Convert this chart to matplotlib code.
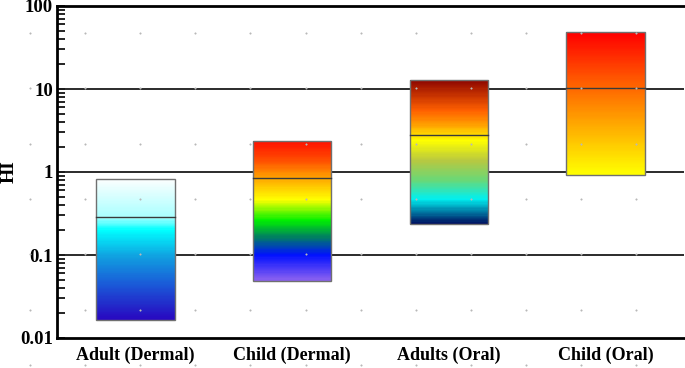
import numpy as np
import matplotlib
matplotlib.use("Agg")
import matplotlib.pyplot as plt
from matplotlib.colors import LinearSegmentedColormap
from matplotlib.lines import Line2D

# data (HI ranges)
groups = ["Adult (Dermal)", "Child (Dermal)", "Adults (Oral)", "Child (Oral)"]
hi_low = [0.0165, 0.049, 0.236, 0.92]
hi_mid = [0.287, 0.84, 2.77, 10.4]
hi_high = [0.82, 2.38, 12.8, 48.2]

# gradient stops per bar, bottom -> top
grad_stops = [
    [(0.0, "#2808c0"), (0.25, "#1a5ad8"), (0.45, "#10a0e0"), (0.64, "#00ffff"),
     (0.73, "#a8ffff"), (1.0, "#fafefe")],
    [(0.0, "#8a60f0"), (0.18, "#0010ff"), (0.31, "#008060"), (0.43, "#00f000"),
     (0.58, "#ffff00"), (0.73, "#ffa800"), (0.86, "#ff5000"), (1.0, "#ff1000")],
    [(0.0, "#001060"), (0.17, "#00f0f0"), (0.3, "#68d878"), (0.44, "#b8c840"),
     (0.58, "#ffff00"), (0.69, "#ffa000"), (0.79, "#ff6000"), (1.0, "#900800")],
    [(0.0, "#ffff00"), (0.45, "#ff9000"), (0.7, "#ff5000"), (1.0, "#ff0000")],
]

plt.rcParams["font.family"] = ["Liberation Serif", "DejaVu Serif"]
plt.rcParams["font.weight"] = "bold"

fig = plt.figure(figsize=(6.85, 3.68), dpi=100)
ax = fig.add_axes([57 / 685, 30 / 368, 627 / 685, 332 / 368])

xpos = np.arange(1, len(groups) + 1)
width = 0.5

for i, x in enumerate(xpos):
    cmap = LinearSegmentedColormap.from_list("g%d" % i, grad_stops[i])
    n = 120
    yedges = np.logspace(np.log10(hi_low[i]), np.log10(hi_high[i]), n + 1)
    xedges = np.array([x - width / 2, x + width / 2])
    c = np.linspace(0, 1, n).reshape(n, 1)
    ax.pcolormesh(xedges, yedges, c, cmap=cmap, shading="flat", zorder=3)
    # outline
    ax.bar(x, hi_high[i] - hi_low[i], bottom=hi_low[i], width=width,
           facecolor="none", edgecolor="#707070", linewidth=1, zorder=4)
    ax.plot([x - width / 2, x + width / 2], [hi_mid[i], hi_mid[i]],
            color="#3a3a3a", linewidth=1, zorder=5)

ax.set_yscale("log")
ax.set_ylim(0.01, 100)
ax.set_xlim(0.5, 4.5)

for v in [0.1, 1, 10]:
    ax.axhline(v, color="#1a1a1a", linewidth=1.3, zorder=2)

ax.set_yticks([0.01, 0.1, 1, 10, 100])
ax.set_yticklabels(["0.01", "0.1", "1", "10", "100"], fontsize=13.5, fontweight="bold")
ax.tick_params(axis="y", which="both", direction="in", length=6, width=1.2,
               left=True, right=False, pad=3)
ax.set_xticks(xpos)
ax.set_xticklabels(groups, fontsize=13, fontweight="bold")
ax.tick_params(axis="x", length=0, pad=6)
ax.set_ylabel("HI", fontsize=14, fontweight="bold", labelpad=2)

for s in ["left", "bottom", "top"]:
    ax.spines[s].set_linewidth(2)
ax.spines["right"].set_visible(False)

# faint dot grid of the page background
gx = 30 + 55.1 * np.arange(12)
gy = 33 + 55.3 * np.arange(7)
GX, GY = np.meshgrid(gx, gy)
fig.add_artist(Line2D(GX.ravel() / 685, 1 - GY.ravel() / 368, linestyle="none",
                      marker="s", markersize=0.5, color="#b8b8b8",
                      transform=fig.transFigure, zorder=10))

fig.savefig("out.png", dpi=100)
